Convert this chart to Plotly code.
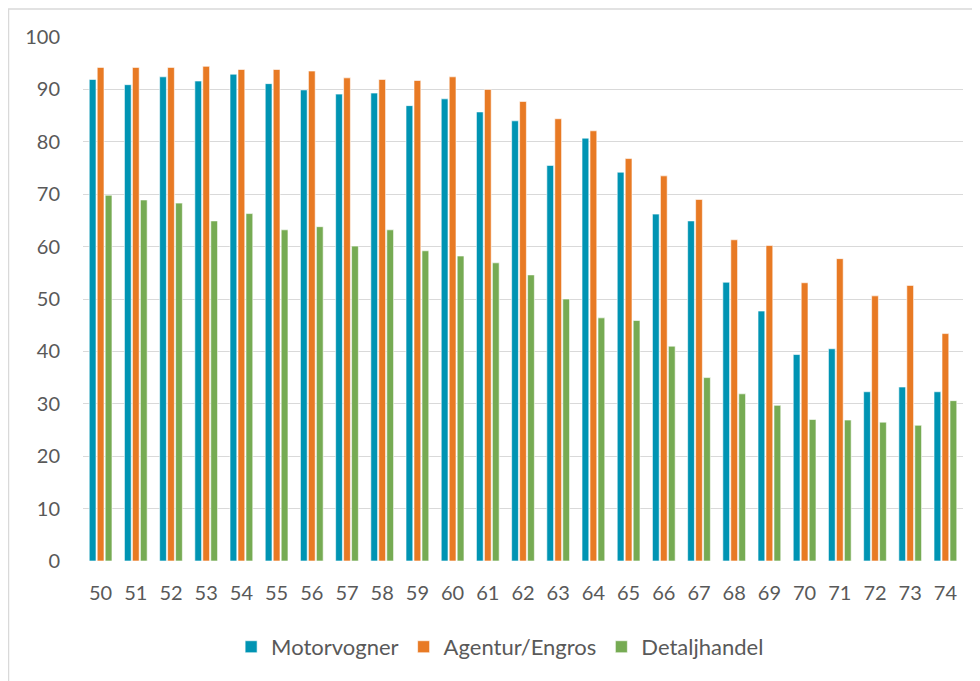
import plotly.graph_objects as go

categories = [str(a) for a in range(50, 75)]
motorvogner = [91.9, 90.9, 92.4, 91.6, 92.9, 91.1, 89.9, 89.1, 89.3, 86.9, 88.2, 85.7, 84.0,
               75.5, 80.7, 74.2, 66.2, 64.9, 53.2, 47.7, 39.4, 40.5, 32.3, 33.2, 32.3]
agentur_engros = [94.2, 94.2, 94.2, 94.4, 93.8, 93.8, 93.5, 92.2, 91.9, 91.7, 92.4, 90.0, 87.7,
                  84.4, 82.1, 76.8, 73.5, 69.0, 61.3, 60.2, 53.1, 57.7, 50.6, 52.6, 43.4]
detaljhandel = [69.8, 68.9, 68.3, 64.9, 66.3, 63.2, 63.8, 60.1, 63.2, 59.2, 58.2, 56.9, 54.6,
                50.0, 46.4, 45.9, 41.0, 35.0, 31.9, 29.7, 27.0, 26.9, 26.5, 25.9, 30.6]
y_ticks = list(range(0, 101, 10))

series = [("Motorvogner", motorvogner, "#0094B3"),
          ("Agentur/Engros", agentur_engros, "#E87A24"),
          ("Detaljhandel", detaljhandel, "#76AB53")]

fig = go.Figure()
for name, vals, col in series:
    fig.add_trace(go.Bar(x=categories, y=vals, name=name,
                         marker=dict(color=col, line=dict(color="white", width=0.6))))

font = "Lato, 'Noto Sans', sans-serif"
fig.update_layout(
    width=972, height=673,
    margin=dict(l=75, r=17, t=29, b=120),
    paper_bgcolor="white", plot_bgcolor="white",
    barmode="group", bargap=0.32, bargroupgap=0.15,
    font=dict(family=font, size=20, color="#595959"),
    showlegend=True,
    legend=dict(orientation="h", x=0.474, xanchor="center", y=-0.164, yanchor="middle",
                font=dict(size=22, color="#595959"), itemwidth=30, tracegroupgap=0),
    xaxis=dict(type="category", showgrid=False, zeroline=False, showline=False,
               ticks="", ticklabelstandoff=18, tickfont=dict(size=20, color="#595959")),
    yaxis=dict(range=[0, 100], tickvals=y_ticks, showgrid=True, gridcolor="#D9D9D9",
               gridwidth=1.3, zeroline=False, showline=False, ticks="",
               ticklabelstandoff=22, tickfont=dict(size=20, color="#595959")),
    shapes=[dict(type="rect", xref="paper", yref="paper",
                 x0=(0.5 - 75) / 880, x1=1.2, y0=-0.4, y1=(553 - 1) / 524,
                 line=dict(color="#D9D9D9", width=1.5), fillcolor="rgba(0,0,0,0)", layer="below")],
)

fig.write_html("out.html")
